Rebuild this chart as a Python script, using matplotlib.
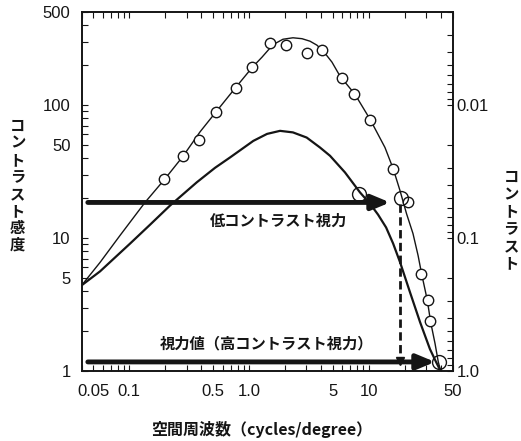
import matplotlib
matplotlib.use("Agg")
import matplotlib.pyplot as plt
from matplotlib.ticker import LogLocator, NullFormatter

# fitted contrast sensitivity function (high-contrast targets)
csf_high_freq = [0.04, 0.0569, 0.0835, 0.135, 0.198, 0.280, 0.389, 0.528, 0.769, 1.066,
                 1.28, 1.58, 1.915, 2.32, 2.76, 3.22, 3.68, 4.16, 4.91, 5.73, 7.64, 10.2,
                 13.6, 15.96, 18.16, 20.6, 23.3, 25.7, 27.5, 30.7, 32.7, 35.6, 37.9, 39.5]
csf_high_sens = [4.41, 6.55, 10.44, 18.5, 27.8, 41.1, 62.8, 88.6, 134.8, 192.6,
                 228.8, 284, 312, 320, 315, 301.6, 281.5, 253.8, 210, 164.9, 120.3, 78.2,
                 47.9, 33.0, 22.7, 15.2, 10.8, 7.39, 5.39, 3.40, 2.34, 1.61, 1.17, 1.02]

# fitted curve for low-contrast targets
csf_low_freq = [0.04, 0.0569, 0.101, 0.149, 0.218, 0.365, 0.519, 0.692, 1.083, 1.41,
                1.81, 2.32, 3.02, 3.90, 4.73, 6.31, 8.42, 10.2, 11.9, 13.9, 15.9,
                18.2, 22.0, 26.7, 32.3, 36.3, 39.2]
csf_low_sens = [4.41, 5.61, 9.05, 12.6, 17.5, 26.2, 33.7, 40.3, 53.7, 60.6,
                63.9, 62.2, 56.9, 47.9, 41.5, 31.1, 22.0, 18.1, 15.0, 12.0, 9.10,
                6.55, 3.91, 2.33, 1.46, 1.17, 1.02]

# measured points
meas_freq = [0.196, 0.280, 0.381, 0.528, 0.769, 1.066, 1.506, 2.03, 3.05, 4.06,
             5.90, 7.57, 10.2, 15.8, 21.1, 27.4, 31.1, 32.5]
meas_sens = [27.8, 41.1, 54.2, 88.6, 134.8, 192.6, 294, 284, 246.5, 259.5,
             160.7, 121.6, 76.8, 32.8, 18.5, 5.39, 3.42, 2.37]

# highlighted points
key_freq = [8.26, 18.6, 38.4]
key_sens = [21.4, 20.1, 1.17]

# arrows: level and end frequency
arrow_start = 0.045
low_level, low_cutoff = 18.5, 15.0
high_level, high_cutoff = 1.17, 35.6
acuity_freq, acuity_top, acuity_bottom = 18.0, 18.1, 1.19

x_ticks = [0.05, 0.1, 0.5, 1, 5, 10, 50]
x_tick_labels = ['0.05', '0.1', '0.5', '1.0', '5', '10', '50']
y_ticks = [1, 5, 10, 50, 100, 500]
y_tick_labels = ['1', '5', '10', '50', '100', '500']
thr_ticks = [0.01, 0.1, 1.0]
thr_tick_labels = ['0.01', '0.1', '1.0']

ink = '#151515'
jp = ['Noto Sans CJK JP', 'DejaVu Sans']
plt.rcParams['font.family'] = ['Liberation Sans', 'Noto Sans CJK JP']

W, H = 521, 441
fig = plt.figure(figsize=(W / 100, H / 100), dpi=100)
ax = fig.add_axes([81.7 / W, 1 - 371 / H, (452.7 - 81.7) / W, (371 - 12) / H])
ax.set_xscale('log')
ax.set_yscale('log')
ax.set_xlim(0.04, 50)
ax.set_ylim(1, 500)

ax.plot(csf_high_freq, csf_high_sens, color=ink, lw=1.0, zorder=3)
ax.plot(csf_low_freq, csf_low_sens, color=ink, lw=1.6, zorder=3)
ax.plot(meas_freq, meas_sens, 'o', ms=7.5, mfc='white', mec=ink, mew=1.0, zorder=5)
ax.plot(key_freq, key_sens, 'o', ms=10, mfc='none', mec=ink, mew=1.0, zorder=5)

arrow_kw = dict(arrowstyle='-|>,head_length=0.6,head_width=0.25', lw=3.5, color=ink,
                shrinkA=0, shrinkB=0, mutation_scale=18)
ax.annotate('', xy=(low_cutoff, low_level), xytext=(arrow_start, low_level),
            arrowprops=arrow_kw, zorder=4)
ax.annotate('', xy=(high_cutoff, high_level), xytext=(arrow_start, high_level),
            arrowprops=arrow_kw, zorder=4)

ax.plot([acuity_freq, acuity_freq], [acuity_top, acuity_bottom], color=ink,
        lw=2.0, dashes=(3, 1.6), zorder=4)
ax.plot([acuity_freq], [acuity_bottom], marker='v', ms=6, color=ink, zorder=4)

ax.text(1.76, 13.5, '低コントラスト視力', ha='center', va='center',
        fontsize=11, family=jp, weight='bold', color=ink)
ax.text(1.41, 1.62, '視力値（高コントラスト視力）', ha='center', va='center',
        fontsize=11, family=jp, weight='bold', color=ink)

ax.set_xticks(x_ticks, x_tick_labels)
ax.set_yticks(y_ticks, y_tick_labels)
ax.xaxis.set_minor_locator(LogLocator(base=10, subs=range(2, 10), numticks=20))
ax.yaxis.set_minor_locator(LogLocator(base=10, subs=range(2, 10), numticks=20))
ax.xaxis.set_minor_formatter(NullFormatter())
ax.yaxis.set_minor_formatter(NullFormatter())
ax.tick_params(which='both', direction='in', top=True, right=False, length=4,
               width=0.8, colors=ink, labelsize=12)
ax.tick_params(axis='x', pad=9)
ax.tick_params(axis='y', pad=8)

ax2 = ax.twinx()
ax2.set_yscale('log')
ax2.set_ylim(1, 1 / 500)
ax2.set_yticks(thr_ticks, thr_tick_labels)
ax2.yaxis.set_minor_locator(LogLocator(base=10, subs=range(2, 10), numticks=20))
ax2.yaxis.set_minor_formatter(NullFormatter())
ax2.tick_params(which='both', direction='in', length=4, width=0.8, colors=ink,
                labelsize=12, pad=3)

for a in (ax, ax2):
    for s in a.spines.values():
        s.set_linewidth(1.2)
        s.set_color(ink)

# vertical axis titles, one character per line
for i, ch in enumerate('コントラスト感度'):
    fig.text(17.5 / W, 1 - (125.8 + 17.0 * i) / H, ch, ha='center', va='center',
             fontsize=11, family=jp, weight='bold', color=ink)
for i, ch in enumerate('コントラスト'):
    fig.text(511 / W, 1 - (177.3 + 17.2 * i) / H, ch, ha='center', va='center',
             fontsize=11, family=jp, weight='bold', color=ink)

fig.text(262 / W, 1 - 429 / H, '空間周波数（cycles/degree）', ha='center', va='center',
         fontsize=11.5, family=jp, weight='bold', color=ink)

fig.savefig('out.png', dpi=100)
